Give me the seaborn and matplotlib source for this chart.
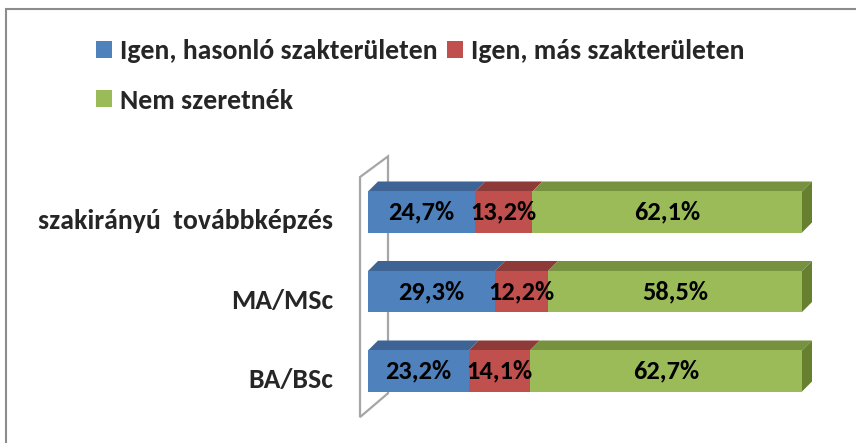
import matplotlib
matplotlib.use('Agg')
import matplotlib.pyplot as plt
import seaborn as sns
import numpy as np
from matplotlib.patches import Polygon, Rectangle
from matplotlib.transforms import ScaledTranslation

# Data
categories = ['szakirányú  továbbképzés', 'MA/MSc', 'BA/BSc']
series_names = ['Igen, hasonló szakterületen', 'Igen, más szakterületen', 'Nem szeretnék']
hasonlo = [24.7, 29.3, 23.2]
mas = [13.2, 12.2, 14.1]
nem = [62.1, 58.5, 62.7]

front_colors = ['#4F81BD', '#C0504D', '#9BBB59']
top_colors = ['#3D6494', '#8D3A38', '#77923F']
side_colors = ['#3A5F8C', '#853634', '#66802F']

sns.set_theme(style='white')
plt.rcParams['font.family'] = ['Carlito', 'DejaVu Sans']
plt.rcParams['font.weight'] = 'bold'

LABEL_FS = 20
VALUE_FS = 19
W, H = 856, 443
fig = plt.figure(figsize=(W / 100, H / 100), dpi=100)
fig.patch.set_facecolor('white')

# axes placed so 0..100% maps to the bar front faces
ax = fig.add_axes([368 / W, (H - 410.75) / H, 434 / W, 238.5 / H])

series = np.array([hasonlo, mas, nem])
cum = np.cumsum(series, axis=0)
bar_w = 0.516

# stacked bars: draw the longest cumulative first
for i in [2, 1, 0]:
    sns.barplot(x=cum[i], y=categories, orient='h', color=front_colors[i],
                saturation=1, width=bar_w, linewidth=0, ax=ax, zorder=3)

ax.set_xlim(0, 100)
ax.set_ylim(2.5, -0.5)
for s in ax.spines.values():
    s.set_visible(False)
ax.set_xticks([])
ax.set_xlabel('')
ax.set_ylabel('')
ax.tick_params(axis='y', length=0, pad=35 * 0.72, labelsize=LABEL_FS)
for lab in ax.get_yticklabels():
    lab.set_fontweight('bold')
    lab.set_transform(lab.get_transform() + ScaledTranslation(0, -7 / 100, fig.dpi_scale_trans))

# 3D depth in data units
dx = 10 / 434 * 100
dy = 10 / 79.5

# back wall outline
wall = Polygon([(-1.84, -0.44), (4.61, -0.70), (4.61, 2.28), (-1.84, 2.58)],
               closed=True, facecolor='white', edgecolor='#a6a6a6', lw=1.6,
               zorder=1, clip_on=False)
ax.add_patch(wall)

for j in range(len(categories)):
    top = j - bar_w / 2
    bottom = j + bar_w / 2
    for i in range(3):
        left = 0 if i == 0 else cum[i - 1][j]
        right = cum[i][j]
        ax.add_patch(Polygon([(left, top), (right, top), (right + dx, top - dy), (left + dx, top - dy)],
                             closed=True, facecolor=top_colors[i], edgecolor='none',
                             zorder=2.5, clip_on=False))
        ax.text((left + right) / 2, j, f'{series[i][j]:.1f}%'.replace('.', ','),
                ha='center', va='center', fontsize=VALUE_FS, fontweight='bold',
                color='black', zorder=5)
    right = cum[2][j]
    ax.add_patch(Polygon([(right, top), (right, bottom), (right + dx, bottom - dy), (right + dx, top - dy)],
                         closed=True, facecolor=side_colors[2], edgecolor='none',
                         zorder=2.5, clip_on=False))

# legend
handles = [Rectangle((0, 0), 1, 1, facecolor=c, edgecolor='none') for c in front_colors]
order = [0, 2, 1]
fig.legend([handles[k] for k in order], [series_names[k] for k in order],
           ncol=2, loc='upper left', bbox_to_anchor=(96 / W, 1 - 39 / H),
           frameon=False, prop={'weight': 'bold', 'size': LABEL_FS},
           handlelength=0.575, handleheight=0.575, handletextpad=0.29,
           columnspacing=0.32, labelspacing=0.92, borderpad=0, borderaxespad=0)

# outer chart border
fig.patches.append(Rectangle((6 / W, -0.1), 1.2, (H - 9) / H + 0.1, transform=fig.transFigure,
                             fill=False, edgecolor='#8c8c8c', lw=1.5))

fig.savefig('out.png', dpi=100)
